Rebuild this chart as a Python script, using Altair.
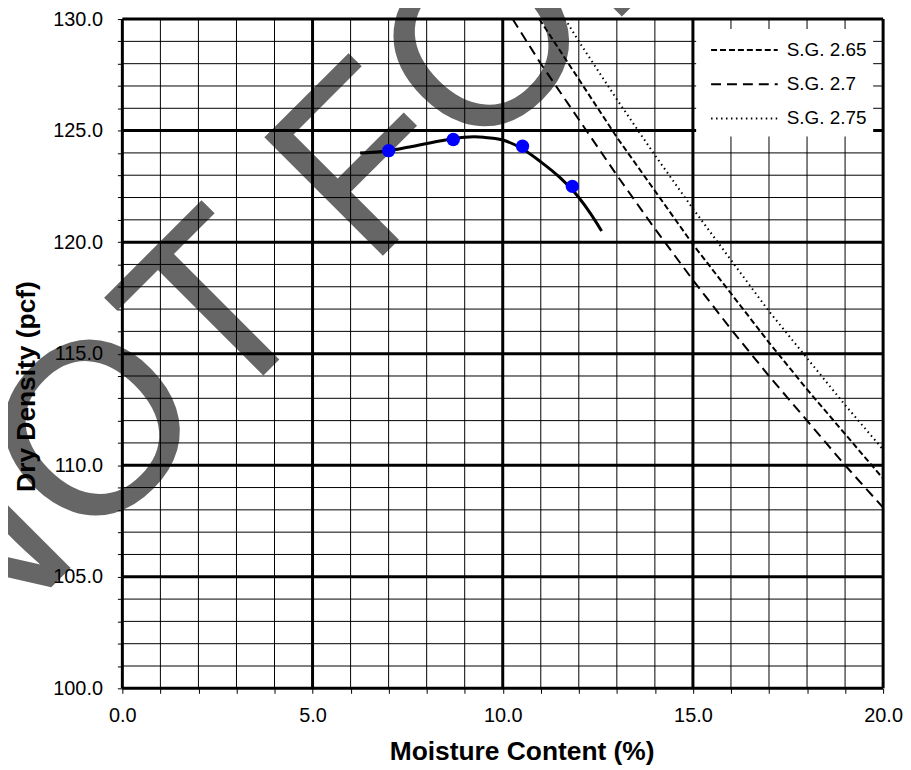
import altair as alt
import pandas as pd

FONT = "Liberation Sans"

# ---- data ----
# compaction test points
pt_moisture = [7.0, 8.7, 10.52, 11.83]
pt_density = [124.1, 124.6, 124.3, 122.5]

# fitted compaction curve
curve_moisture = [6.25, 6.5, 7.0, 7.5, 8.0, 8.5, 9.0, 9.25, 9.5, 10.0, 10.5, 11.0, 11.5, 12.0, 12.3, 12.6]
curve_density = [124.0, 124.02, 124.1, 124.25, 124.42, 124.58, 124.7, 124.72, 124.7, 124.58, 124.2, 123.6, 122.9, 122.0, 121.3, 120.5]

# zero-air-voids lines
sg_labels = ["S.G. 2.65", "S.G. 2.7", "S.G. 2.75"]
zav_265_moisture = [10.96, 11, 12, 13, 14, 15, 16, 17, 18, 19, 20]
zav_265_density = [130.0, 129.9, 127.3, 124.7, 122.3, 119.9, 117.7, 115.5, 113.4, 111.4, 109.4]
zav_27_moisture = [10.26, 11, 12, 13, 14, 15, 16, 17, 18, 19, 20]
zav_27_density = [130.0, 128.0, 125.5, 123.0, 120.6, 118.3, 116.1, 114.0, 112.0, 110.0, 108.1]
zav_275_moisture = [11.64, 12, 13, 14, 15, 16, 17, 18, 19, 20]
zav_275_density = [130.0, 129.0, 126.4, 123.9, 121.5, 119.2, 116.9, 114.8, 112.7, 110.7]

# axes
x_ticks = list(range(0, 21))
y_ticks = list(range(100, 131))
x_major = [0, 5, 10, 15, 20]
y_major = [100, 105, 110, 115, 120, 125, 130]
x_minor = [v for v in x_ticks if v not in x_major]
y_minor = [v for v in y_ticks if v not in y_major]

watermark_text = "NOT FOR CONSTRUCTION"

# ---- styles ----
dash_styles = {"S.G. 2.65": [6, 3], "S.G. 2.7": [10, 6], "S.G. 2.75": [1.5, 3.5]}
dash_widths = {"S.G. 2.65": 2, "S.G. 2.7": 2, "S.G. 2.75": 2}

xs = alt.Scale(domain=[0, 20], nice=False, zero=False)
ys = alt.Scale(domain=[100, 130], nice=False, zero=False)

lab = "datum.value % 5 === 0 ? format(datum.value, '.1f') : ''"
x_axis = alt.Axis(values=x_ticks, labelExpr=lab, grid=False, domain=False, zindex=1,
                  tickSize=5, tickColor="black", tickWidth=1,
                  labelFont=FONT, labelFontSize=20, labelColor="black",
                  labelPadding=12, labelFlush=False, labelOverlap=False,
                  titleFont=FONT, titleFontSize=26.5, titleFontWeight="bold",
                  titleColor="black", titleX=401.5, titleY=72,
                  titleAlign="center", titleBaseline="alphabetic")
y_axis = alt.Axis(values=y_ticks, labelExpr=lab, grid=False, domain=False, zindex=1,
                  tickSize=5, tickColor="black", tickWidth=1,
                  labelFont=FONT, labelFontSize=20, labelColor="black",
                  labelPadding=15, labelFlush=False, labelOverlap=False,
                  titleFont=FONT, titleFontSize=26.5, titleFontWeight="bold",
                  titleColor="black", titleAngle=270, titleX=-88, titleY=369,
                  titleAlign="center", titleBaseline="alphabetic")


def X(field):
    return alt.X(f"{field}:Q", scale=xs, axis=x_axis, title="Moisture Content (%)")


def Y(field):
    return alt.Y(f"{field}:Q", scale=ys, axis=y_axis, title="Dry Density (pcf)")


layers = []

# watermark
layers.append(
    alt.Chart(pd.DataFrame({"t": [watermark_text]})).mark_text(
        angle=315, align="left", baseline="alphabetic", fontSize=245,
        font=FONT, color="#666666"
    ).encode(x=alt.value(-163), y=alt.value(663), text="t:N")
)

# grid
layers.append(alt.Chart(pd.DataFrame({"v": x_minor})).mark_rule(color="black", strokeWidth=1).encode(x=X("v")))
layers.append(alt.Chart(pd.DataFrame({"w": y_minor})).mark_rule(color="black", strokeWidth=1).encode(y=Y("w")))
layers.append(alt.Chart(pd.DataFrame({"v": x_major})).mark_rule(color="black", strokeWidth=3).encode(x=X("v")))
layers.append(alt.Chart(pd.DataFrame({"w": y_major})).mark_rule(color="black", strokeWidth=3).encode(y=Y("w")))

# zero air voids lines
zav = {
    "S.G. 2.65": (zav_265_moisture, zav_265_density),
    "S.G. 2.7": (zav_27_moisture, zav_27_density),
    "S.G. 2.75": (zav_275_moisture, zav_275_density),
}
for name in sg_labels:
    mx, dy = zav[name]
    layers.append(
        alt.Chart(pd.DataFrame({"m": mx, "d": dy})).mark_line(
            color="black", strokeWidth=dash_widths[name], strokeDash=dash_styles[name]
        ).encode(x=X("m"), y=Y("d"), order="m:Q")
    )

# compaction curve
layers.append(
    alt.Chart(pd.DataFrame({"m": curve_moisture, "d": curve_density})).mark_line(
        color="black", strokeWidth=3, interpolate="monotone"
    ).encode(x=X("m"), y=Y("d"), order="m:Q")
)

# test points
layers.append(
    alt.Chart(pd.DataFrame({"m": pt_moisture, "d": pt_density})).mark_point(
        filled=True, color="#0000ff", opacity=1, size=180
    ).encode(x=X("m"), y=Y("d"))
)

# legend box
one = pd.DataFrame({"k": [0]})
layers.append(
    alt.Chart(one).mark_rect(fill="white").encode(
        x=alt.value(577), x2=alt.value(755), y=alt.value(10), y2=alt.value(118)
    )
)
for i, name in enumerate(sg_labels):
    yy = 31 + 34.5 * i
    layers.append(
        alt.Chart(one).mark_rule(
            color="black", strokeWidth=dash_widths[name], strokeDash=dash_styles[name]
        ).encode(x=alt.value(592), x2=alt.value(659), y=alt.value(yy))
    )
    layers.append(
        alt.Chart(pd.DataFrame({"t": [name]})).mark_text(
            align="left", baseline="middle", fontSize=19, font=FONT, color="black"
        ).encode(x=alt.value(668), y=alt.value(yy), text="t:N")
    )

chart = alt.layer(*layers).properties(
    width=765, height=673,
    autosize=alt.AutoSizeParams(type="none"),
    padding={"left": 115, "top": 9, "right": 20, "bottom": 76},
).configure_view(stroke=None)

chart.save("out.html", embed_options={"renderer": "svg", "actions": False})
